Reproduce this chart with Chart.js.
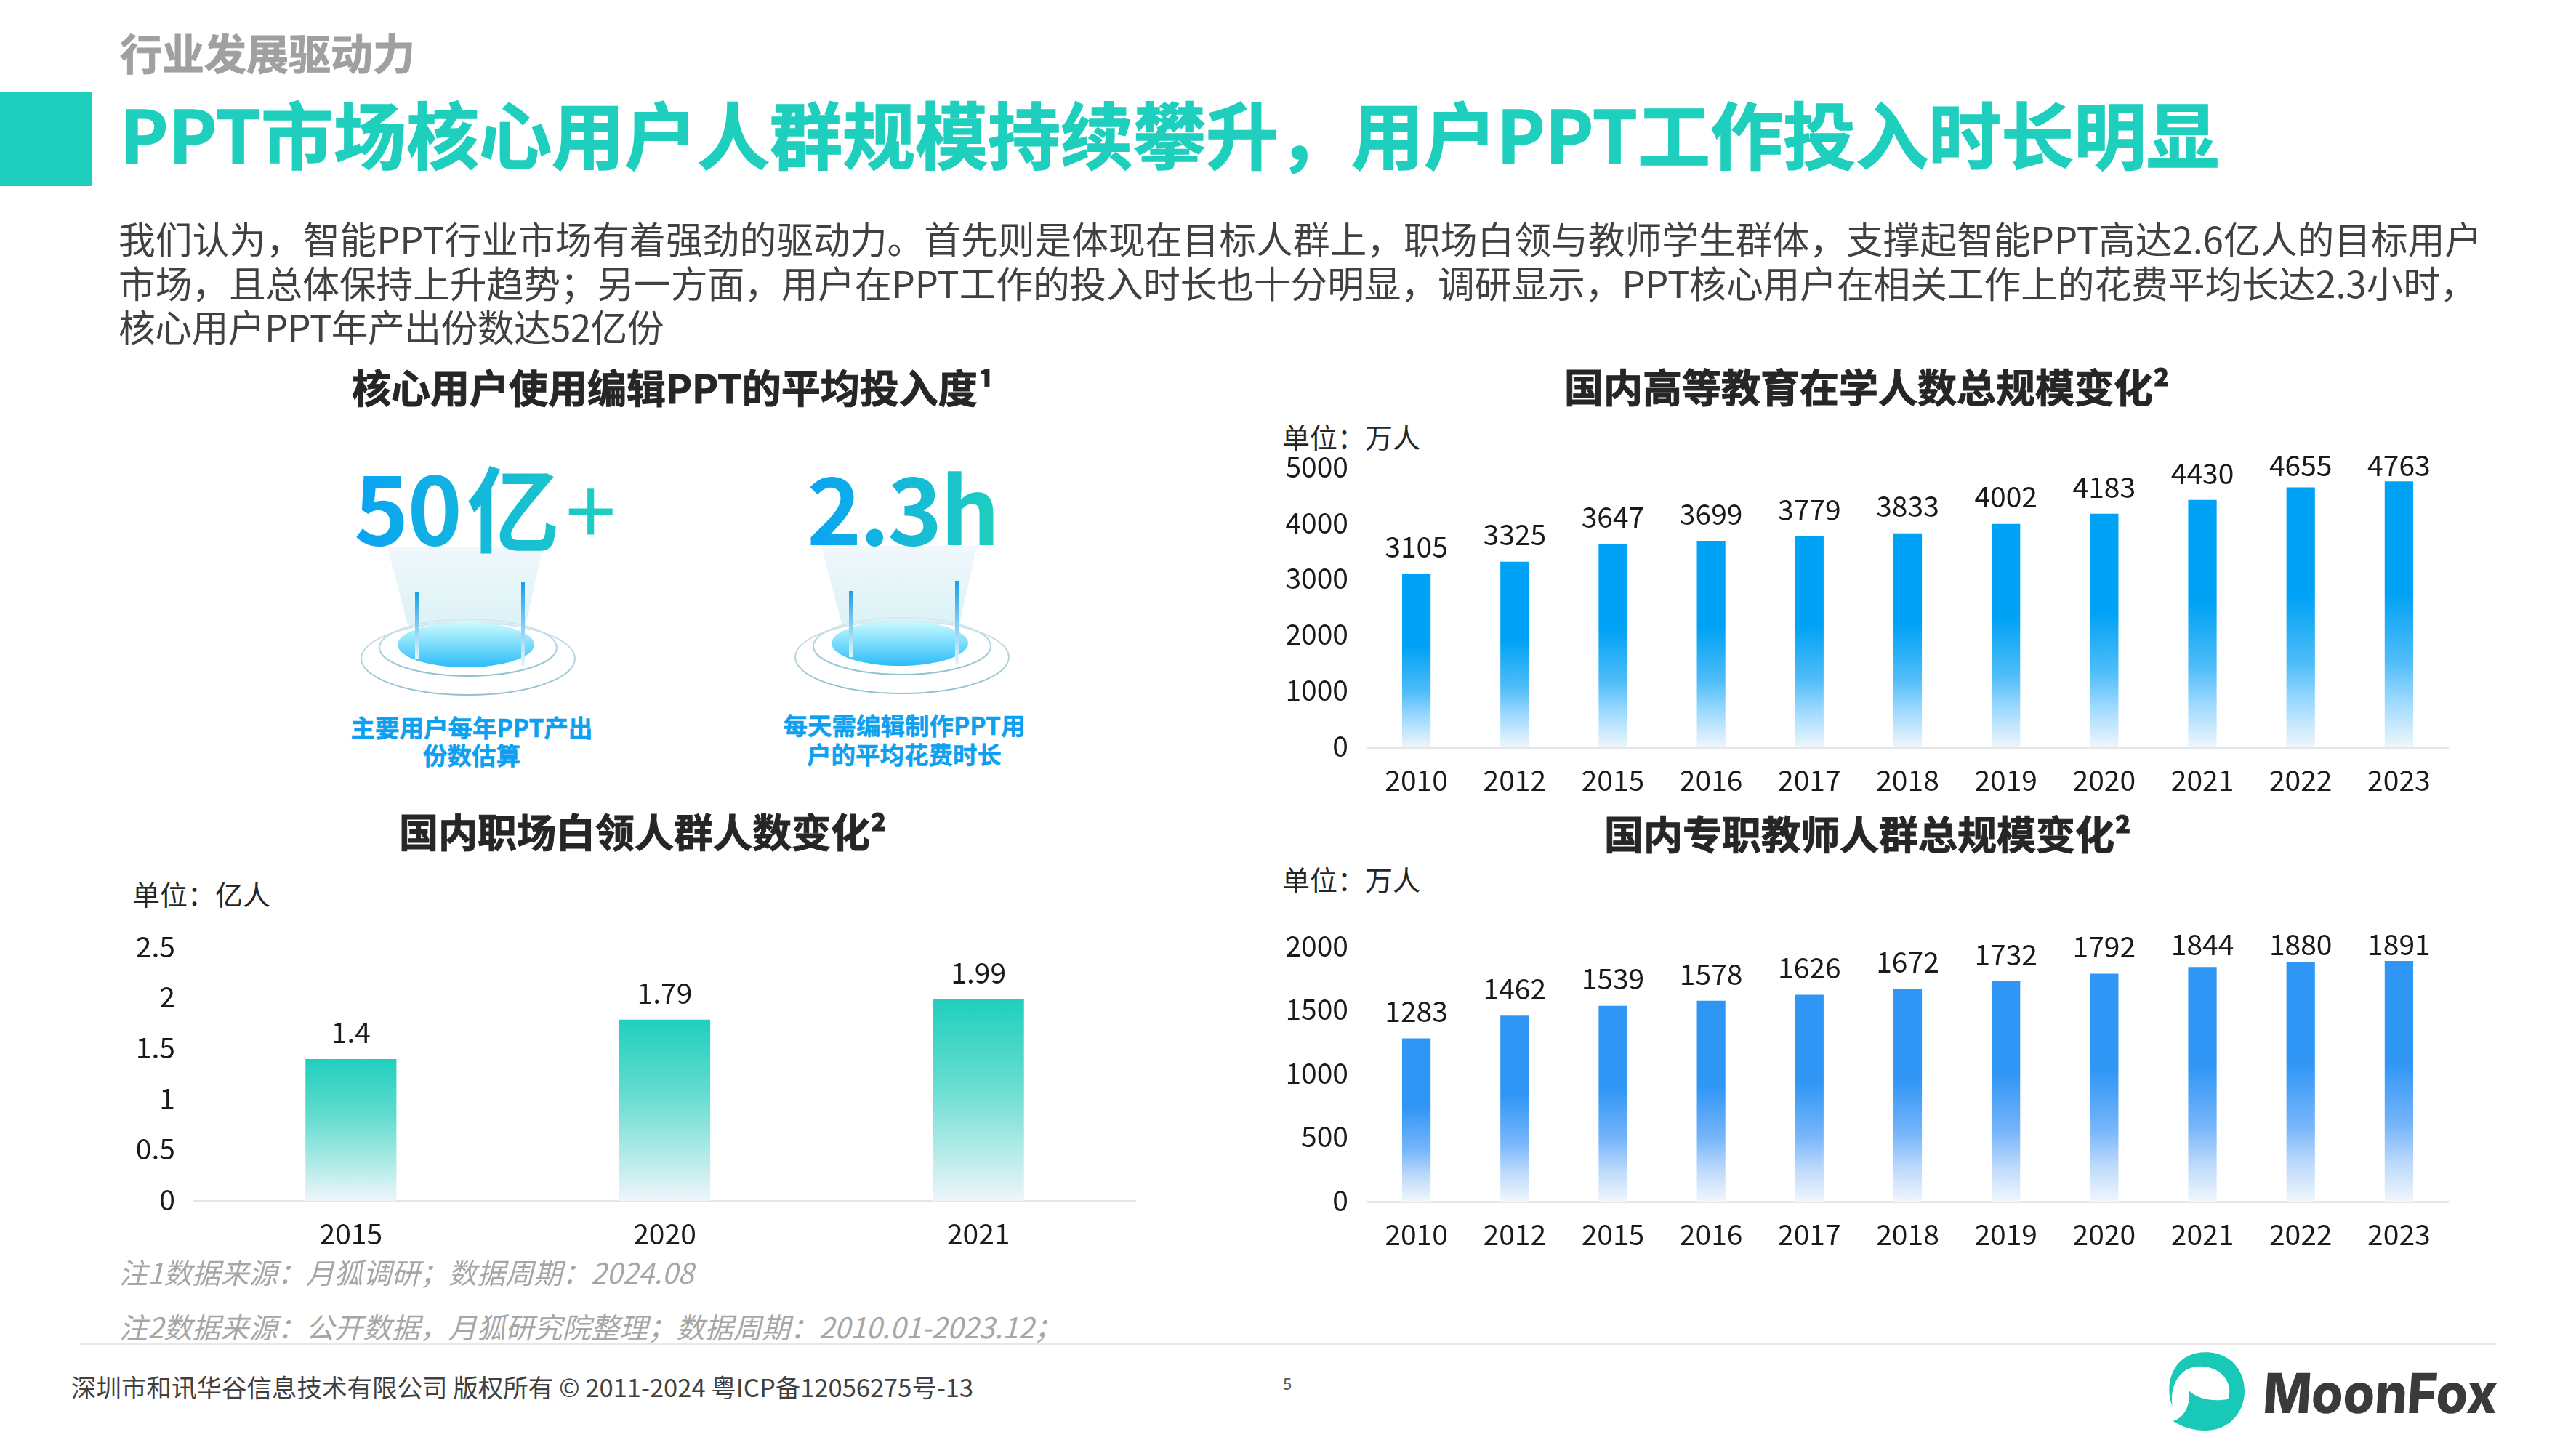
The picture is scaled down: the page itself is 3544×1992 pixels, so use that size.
<!DOCTYPE html>
<html>
<head>
<meta charset="utf-8">
<script src="https://cdn.jsdelivr.net/npm/chart.js@4"></script>
<style>
  html, body { margin: 0; padding: 0; background: #fff; }
  #page { position: relative; width: 3544px; height: 1992px; overflow: hidden; font-family: "Noto Sans CJK SC", sans-serif; }
  #page canvas { position: absolute; }
  .t { position: absolute; white-space: nowrap; line-height: 1; }
  .title { font-size: 54px; font-weight: 700; color: #262626; -webkit-text-stroke: 1px #262626; }
  .para { font-size: 50.75px; color: #404040; left: 163px; }
  .unit { font-size: 38px; color: #262626; }
  .note { font-size: 39.2px; font-style: italic; color: #a6a6a6; left: 164px; }
  .cap { font-size: 33.5px; font-weight: 700; color: #0ea0f0; transform: translateX(-50%); -webkit-text-stroke: 0.5px #0ea0f0; }
  .kpi { font-size: 128px; font-weight: 700; background: linear-gradient(90deg, #0aa2f5, #1fcfbe); -webkit-background-clip: text; background-clip: text; color: transparent; line-height: 1.3; }
</style>
</head>
<body>
<div id="page">
  <div style="position:absolute;left:0;top:127px;width:126px;height:129px;background:#1fcfbe"></div>
  <div class="t" style="left:165px;top:42px;font-size:58px;font-weight:700;color:#a0a0a0;-webkit-text-stroke:1px #a0a0a0">行业发展驱动力</div>
  <div class="t" style="left:165px;top:132px;font-size:100px;font-weight:700;color:#1fcfbe;-webkit-text-stroke:1.5px #1fcfbe">PPT市场核心用户人群规模持续攀升，用户PPT工作投入时长明显</div>
  <div class="t para" style="top:302px">我们认为，智能PPT行业市场有着强劲的驱动力。首先则是体现在目标人群上，职场白领与教师学生群体，支撑起智能PPT高达2.6亿人的目标用户</div>
  <div class="t para" style="top:363px;letter-spacing:-0.1px">市场，且总体保持上升趋势；另一方面，用户在PPT工作的投入时长也十分明显，调研显示，PPT核心用户在相关工作上的花费平均长达2.3小时，</div>
  <div class="t para" style="top:423px;letter-spacing:-0.5px">核心用户PPT年产出份数达52亿份</div>

  <div class="t title" style="left:484px;top:505px">核心用户使用编辑PPT的平均投入度¹</div>
  <div class="t title" style="left:2152px;top:504px">国内高等教育在学人数总规模变化²</div>
  <div class="t title" style="left:549px;top:1116px">国内职场白领人群人数变化²</div>
  <div class="t title" style="left:2207px;top:1119px">国内专职教师人群总规模变化²</div>

  <div class="t unit" style="left:1764px;top:581px">单位：万人</div>
  <div class="t unit" style="left:182px;top:1210px">单位：亿人</div>
  <div class="t unit" style="left:1764px;top:1190px">单位：万人</div>

  <svg style="position:absolute;left:0;top:0" width="3544" height="1992">
    <defs>
      <linearGradient id="beam" x1="0" y1="0" x2="0" y2="1"><stop offset="0" stop-color="#f0f8fc"/><stop offset="1" stop-color="#dcf2f5"/></linearGradient>
      <linearGradient id="disc" x1="0" y1="0" x2="0" y2="1"><stop offset="0" stop-color="#cbfbfe"/><stop offset="1" stop-color="#2cbdfa"/></linearGradient>
      <linearGradient id="post" x1="0" y1="0" x2="0" y2="1"><stop offset="0" stop-color="#1a9fe8"/><stop offset="1" stop-color="#e6f6fb"/></linearGradient>
      <linearGradient id="ring" x1="0" y1="0" x2="0" y2="1"><stop offset="0" stop-color="#d8e8ee"/><stop offset="1" stop-color="#8fc0ce"/></linearGradient>
      <g id="stage">
        <polygon points="533,753 747,753 723,860 561,860" fill="url(#beam)"/>
        <ellipse cx="644" cy="906" rx="147" ry="50" fill="none" stroke="url(#ring)" stroke-width="2"/>
        <ellipse cx="644" cy="891" rx="122" ry="39" fill="none" stroke="url(#ring)" stroke-width="2"/>
        <ellipse cx="641" cy="887" rx="94" ry="31" fill="url(#disc)"/>
        <rect x="571" y="815" width="5" height="91" fill="url(#post)"/>
        <rect x="717" y="801" width="5" height="115" fill="url(#post)"/>
      </g>
    </defs>
    <use href="#stage"/>
    <use href="#stage" transform="translate(597,-2)"/>
    <line x1="108" y1="1849" x2="3436" y2="1849" stroke="#e8e8e8" stroke-width="2"/>
    <g transform="translate(2958,1848) scale(0.3333)">
      <path fill="#17c9b6" d="M92,258 C60,190 80,37 230,37 C330,37 390,110 390,197 C390,290 320,360 230,360 C180,360 130,345 95,320 C135,310 170,260 160,195 C200,235 270,240 322,230 C345,170 300,95 205,95 C120,95 80,180 92,258 Z"/>
    </g>
    <text transform="translate(3112,1944) skewX(-4)" x="0" y="0" font-family="Inter" font-weight="800" font-size="76" fill="#3a3a3a" textLength="322" lengthAdjust="spacingAndGlyphs">MoonFox</text>
  </svg>

  <div class="t kpi" style="left:487px;top:612px;letter-spacing:-2px">50<span style="margin-left:8px">亿</span><span style="font-weight:400;font-size:125px;margin-left:10px">+</span></div>
  <div class="t kpi" style="left:1110px;top:612px;letter-spacing:-3px">2.3h</div>
  <div class="t cap" style="left:649px;top:983px">主要用户每年PPT产出</div>
  <div class="t cap" style="left:649px;top:1021px">份数估算</div>
  <div class="t cap" style="left:1244px;top:980px">每天需编辑制作PPT用</div>
  <div class="t cap" style="left:1244px;top:1020px">户的平均花费时长</div>

  <canvas id="chart-edu"></canvas>
  <canvas id="chart-white"></canvas>
  <canvas id="chart-teacher"></canvas>

  <div class="t note" style="top:1730px">注1数据来源：月狐调研；数据周期：2024.08</div>
  <div class="t note" style="top:1805px">注2数据来源：公开数据，月狐研究院整理；数据周期：2010.01-2023.12；</div>
  <div class="t" style="left:98px;top:1890px;font-size:34.5px;color:#404040">深圳市和讯华谷信息技术有限公司 版权所有 © 2011-2024 粤ICP备12056275号-13</div>
  <div class="t" style="left:1765px;top:1891px;font-size:22px;color:#555">5</div>
</div>

<script>
// data
const yearsLong = ["2010", "2012", "2015", "2016", "2017", "2018", "2019", "2020", "2021", "2022", "2023"];
const eduValues = [3105, 3325, 3647, 3699, 3779, 3833, 4002, 4183, 4430, 4655, 4763];
const eduTicks = [0, 1000, 2000, 3000, 4000, 5000];

const whiteYears = ["2015", "2020", "2021"];
const whiteValues = [1.4, 1.79, 1.99];
const whiteTicks = [0, 0.5, 1, 1.5, 2, 2.5];

const teacherValues = [1283, 1462, 1539, 1578, 1626, 1672, 1732, 1792, 1844, 1880, 1891];
const teacherTicks = [0, 500, 1000, 1500, 2000];

const blueStops = [[0, "#00a2f5"], [0.42, "#00a2f5"], [0.68, "#50bdf8"], [0.82, "#9ad8ff"], [1, "#eef6fb"]];
const tealStops = [[0, "#1fcfbe"], [0.4, "#62dccf"], [0.7, "#a6e9e4"], [1, "#eef5fb"]];
const royalStops = [[0, "#2f96f5"], [0.42, "#2f96f5"], [0.68, "#76b5fa"], [0.84, "#bcd9fb"], [1, "#f0f6fc"]];

Chart.defaults.font.family = "'Noto Sans CJK SC', sans-serif";
Chart.defaults.color = "#1a1a1a";

// values on top of the bars, held just above the plot top when the bar is tall
const barLabels = {
  id: "barLabels",
  afterDatasetsDraw(chart) {
    const ctx = chart.ctx;
    const values = chart.data.datasets[0].data;
    const minY = chart.chartArea.top - 4;
    ctx.save();
    ctx.font = "39px 'Noto Sans CJK SC'";
    ctx.fillStyle = "#1a1a1a";
    ctx.textAlign = "center";
    ctx.textBaseline = "middle";
    chart.getDatasetMeta(0).data.forEach((bar, i) => {
      ctx.fillText(String(values[i]), bar.x, Math.max(bar.y - 37, minY));
    });
    ctx.restore();
  }
};

const AXIS_W = 140;

function criarBarras(id, box, labels, values, ticks, stops) {
  const canvas = document.getElementById(id);
  const left = box.left - AXIS_W, top = box.top - 60, bottom = box.bottom + 80, right = box.right + 10;
  canvas.width = right - left;
  canvas.height = bottom - top;
  canvas.style.left = left + "px";
  canvas.style.top = top + "px";
  return new Chart(canvas, {
    type: "bar",
    data: {
      labels: labels,
      datasets: [{
        data: values,
        barPercentage: 0.29,
        categoryPercentage: 1,
        backgroundColor(c) {
          const y = c.chart.scales.y;
          if (!c.parsed || !y) return stops[0][1];
          const y0 = y.getPixelForValue(c.parsed.y), y1 = y.getPixelForValue(0);
          // first pass runs before the layout, the scale has no size yet
          if (!isFinite(y0) || !isFinite(y1)) return stops[0][1];
          const g = c.chart.ctx.createLinearGradient(0, y0, 0, y1);
          stops.forEach(s => g.addColorStop(s[0], s[1]));
          return g;
        }
      }]
    },
    options: {
      responsive: false,
      animation: false,
      devicePixelRatio: 1,
      layout: { padding: { top: 60, right: 10, left: 0, bottom: 0 } },
      plugins: { legend: { display: false }, tooltip: { enabled: false } },
      scales: {
        x: {
          grid: { display: false },
          border: { color: "#e6e6e6", width: 3 },
          afterFit(s) { s.height = 80; },
          ticks: { font: { size: 39 }, padding: 14, maxRotation: 0, autoSkip: false }
        },
        y: {
          min: ticks[0],
          max: ticks[ticks.length - 1],
          grid: { display: false },
          border: { display: false },
          afterFit(s) { s.width = AXIS_W; },
          afterBuildTicks(s) { s.ticks = ticks.map(v => ({ value: v })); },
          ticks: { font: { size: 39 }, padding: 18, labelOffset: -2, callback: v => String(v) }
        }
      }
    },
    plugins: [barLabels]
  });
}

criarBarras("chart-edu", { left: 1881, right: 3368, top: 644, bottom: 1028 }, yearsLong, eduValues, eduTicks, blueStops);
criarBarras("chart-white", { left: 267, right: 1562, top: 1304, bottom: 1652 }, whiteYears, whiteValues, whiteTicks, tealStops);
criarBarras("chart-teacher", { left: 1881, right: 3368, top: 1303, bottom: 1653 }, yearsLong, teacherValues, teacherTicks, royalStops);
</script>
</body>
</html>
